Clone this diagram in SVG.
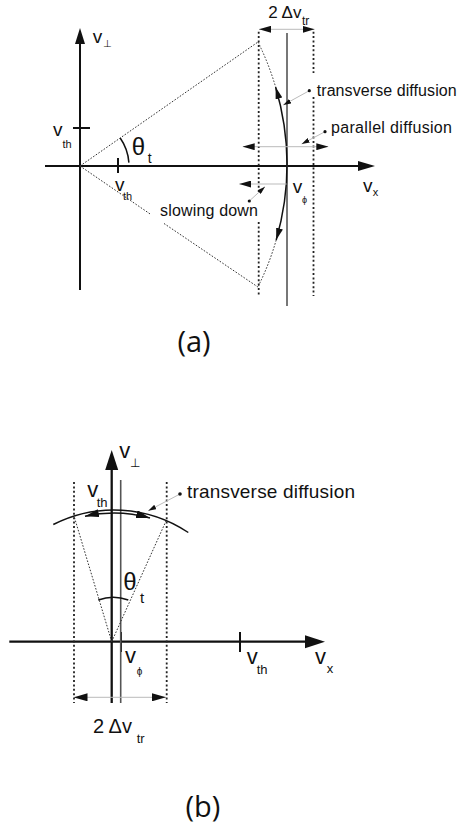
<svg xmlns="http://www.w3.org/2000/svg" width="459" height="827" viewBox="0 0 459 827">
<defs>
<style>
.ax{stroke:#111;stroke-width:2;fill:none}
.axb{stroke:#111;stroke-width:2.3;fill:none}
.ah{fill:#111}
.tk{stroke:#111;stroke-width:2}
.vphi{stroke:#555;stroke-width:1.6}
.dv{stroke:#222;stroke-width:1.8;stroke-dasharray:2 2.4;fill:none}
.cone{stroke:#333;stroke-width:1;stroke-dasharray:1.6 1.6;fill:none}
.arc{stroke:#111;stroke-width:1.5;fill:none}
.thin{stroke:#bbb;stroke-width:1;fill:none}
.lead{stroke:#bbb;stroke-width:1;fill:none}
.t{font-family:"Liberation Sans",Arial,sans-serif;fill:#111}
.sym{font-family:"DejaVu Sans",sans-serif;fill:#111}
.cap{font-family:"Open Sans",sans-serif;fill:#111;font-size:29px}
</style>
<marker id="mh" markerUnits="userSpaceOnUse" markerWidth="12" markerHeight="7" refX="12" refY="3.5" orient="auto-start-reverse" viewBox="0 0 12 7">
<path d="M0,0 L12,3.5 L0,7 z" fill="#111"/>
</marker>
<marker id="ms" markerUnits="userSpaceOnUse" markerWidth="8" markerHeight="5" refX="8" refY="2.5" orient="auto" viewBox="0 0 8 5">
<path d="M0,0 L8,2.5 L0,5 z" fill="#111"/>
</marker>
<marker id="mb" markerUnits="userSpaceOnUse" markerWidth="14" markerHeight="8" refX="14" refY="4" orient="auto-start-reverse" viewBox="0 0 14 8">
<path d="M0,0 L14,4 L0,8 z" fill="#111"/>
</marker>
</defs>

<g id="panel-a">
  <g id="a-axes">
    <line class="ax" x1="80" y1="290" x2="80" y2="42"/>
    <polygon class="ah" points="80,28 75,44 85,44"/>
    <line class="ax" x1="45" y1="166" x2="360" y2="166"/>
    <polygon class="ah" points="375,166 358,161 358,171"/>
    <line class="tk" x1="73" y1="128" x2="90" y2="128"/>
    <line class="tk" x1="118" y1="158" x2="118" y2="173"/>
  </g>
  <g id="a-guides">
    <path class="cone" d="M80,166 L258,42"/>
    <path class="cone" d="M80,166 L150,213.9 M164,223.5 L257.9,287"/>
    <path class="dv" d="M258.7,31.7 V192 M258.7,222 V296"/>
    <path class="dv" d="M313.5,31.7 V73 M313.5,97 V296"/>
    <line class="vphi" x1="287" y1="33" x2="287" y2="306"/>
    <path class="cone" d="M258,42 A273.2,273.2 0 0,1 275.6,87"/>
    <path class="cone" d="M276.2,240 A273.2,273.2 0 0,1 257.9,287"/>
    <path class="arc" d="M120.2,138 A49,49 0 0,1 128.9,162.6" stroke-width="1.8"/>
  </g>
  <g id="a-connectors">
    <path class="arc" d="M275.6,87 A273.2,273.2 0 0,1 276.2,240" marker-start="url(#mh)" marker-end="url(#mh)"/>
    <path class="thin" d="M259,29.3 L314.5,29.3" marker-start="url(#mh)" marker-end="url(#mh)"/>
    <path class="thin" d="M242.7,146.7 L328.3,146.7" marker-start="url(#mh)" marker-end="url(#mh)"/>
    <path class="thin" d="M286.7,184 L239.3,184" marker-end="url(#mh)"/>
    <path class="lead" d="M309.3,90.7 L283.3,105" marker-end="url(#ms)"/>
    <path class="lead" d="M325,131.7 L301.7,144" marker-end="url(#ms)"/>
    <path class="lead" d="M249.3,201 L265,186.7" marker-end="url(#ms)"/>
  </g>
  <g id="a-labels">
    <text class="t" x="92.7" y="43.3" font-size="19">v<tspan class="sym" font-size="10" dx="0.8" dy="3.7">⊥</tspan></text>
    <text class="t" x="53" y="136.3" font-size="19">v<tspan font-size="11" dx="0" dy="11.2">th</tspan></text>
    <text class="t" x="115" y="191.2" font-size="19">v<tspan font-size="11" dx="-1.5" dy="8.3">th</tspan></text>
    <text class="t" x="131.7" y="155" font-size="24">θ<tspan font-size="14" dx="2.7" dy="8">t</tspan></text>
    <text class="t" x="292.7" y="193.3" font-size="19">v<tspan font-size="9" dx="-0.2" dy="9.7">ϕ</tspan></text>
    <text class="t" x="363" y="191.7" font-size="19">v<tspan font-size="11" dx="0.2" dy="4.3">x</tspan></text>
    <text class="t" x="268.3" y="18.3" font-size="17">2 Δv</text>
    <text class="t" x="302" y="25" font-size="12">tr</text>
    <circle cx="309.3" cy="90.7" r="1.6" fill="#111"/>
    <text class="t" x="316.7" y="95.7" font-size="16" textLength="140">transverse diffusion</text>
    <circle cx="325" cy="131.7" r="1.6" fill="#111"/>
    <text class="t" x="331" y="133.3" font-size="16" textLength="121">parallel diffusion</text>
    <circle cx="249.3" cy="201" r="1.6" fill="#111"/>
    <text class="t" x="160" y="216" font-size="16" textLength="98">slowing down</text>
    <text class="cap" x="194" y="351.7" text-anchor="middle">(a)</text>
  </g>
</g>

<g id="panel-b">
  <g id="b-axes">
    <line class="axb" x1="111.7" y1="703" x2="111.7" y2="466"/>
    <polygon class="ah" points="111.7,450 105.2,470 118.2,470"/>
    <line class="axb" x1="9.3" y1="641.7" x2="308" y2="641.7"/>
    <polygon class="ah" points="325,641.7 305,635.2 305,648.2"/>
    <line class="tk" x1="121" y1="632" x2="121" y2="652" stroke-width="2.2"/>
    <line class="tk" x1="240" y1="632" x2="240" y2="652" stroke-width="2.2"/>
  </g>
  <g id="b-guides">
    <line class="vphi" x1="120.7" y1="480" x2="120.7" y2="703" stroke-width="2" stroke="#666"/>
    <path class="dv" d="M74,482 V703" stroke-width="2"/>
    <path class="dv" d="M166.7,482 V703" stroke-width="2"/>
    <path class="cone" d="M111.7,641.7 L74,516"/>
    <path class="cone" d="M111.7,641.7 L166.7,519.5"/>
    <path class="arc" d="M53.3,524.5 A134,134 0 0,1 188.3,532.5" stroke-width="1.8"/>
    <path class="arc" d="M98.3,600 A44,44 0 0,1 128.3,600" stroke-width="1.8"/>
  </g>
  <g id="b-connectors">
    <path class="arc" d="M85,516.2 A131,131 0 0,1 150,518" stroke-width="1.8" marker-start="url(#mb)" marker-end="url(#mb)"/>
    <path class="thin" d="M73.5,697.3 L166,697.3" marker-start="url(#mb)" marker-end="url(#mb)"/>
    <path class="lead" d="M180,494 L148.3,510.7" marker-end="url(#ms)"/>
  </g>
  <g id="b-labels">
    <text class="t" x="119.3" y="458.3" font-size="22">v<tspan class="sym" font-size="12" dx="-0.3" dy="8.2">⊥</tspan></text>
    <text class="t" x="87.3" y="497.3" font-size="22">v<tspan font-size="13" dx="-1.6" dy="9.4">th</tspan></text>
    <circle cx="180" cy="494" r="1.8" fill="#111"/>
    <text class="t" x="187" y="498.3" font-size="19" textLength="168">transverse diffusion</text>
    <text class="t" x="123.3" y="590" font-size="24">θ<tspan font-size="15" dx="3.4" dy="13.3">t</tspan></text>
    <text class="t" x="125" y="663.3" font-size="22">v<tspan font-size="10" dx="0.7" dy="11.7">ϕ</tspan></text>
    <text class="t" x="246.7" y="664" font-size="22">v<tspan font-size="13" dx="-1" dy="10">th</tspan></text>
    <text class="t" x="315" y="664" font-size="22">v<tspan font-size="13" dx="0.7" dy="9">x</tspan></text>
    <text class="t" x="93" y="733.3" font-size="20">2 Δv</text>
    <text class="t" x="136.7" y="742.7" font-size="13">tr</text>
    <text class="cap" x="203" y="817" text-anchor="middle">(b)</text>
  </g>
</g>
</svg>
